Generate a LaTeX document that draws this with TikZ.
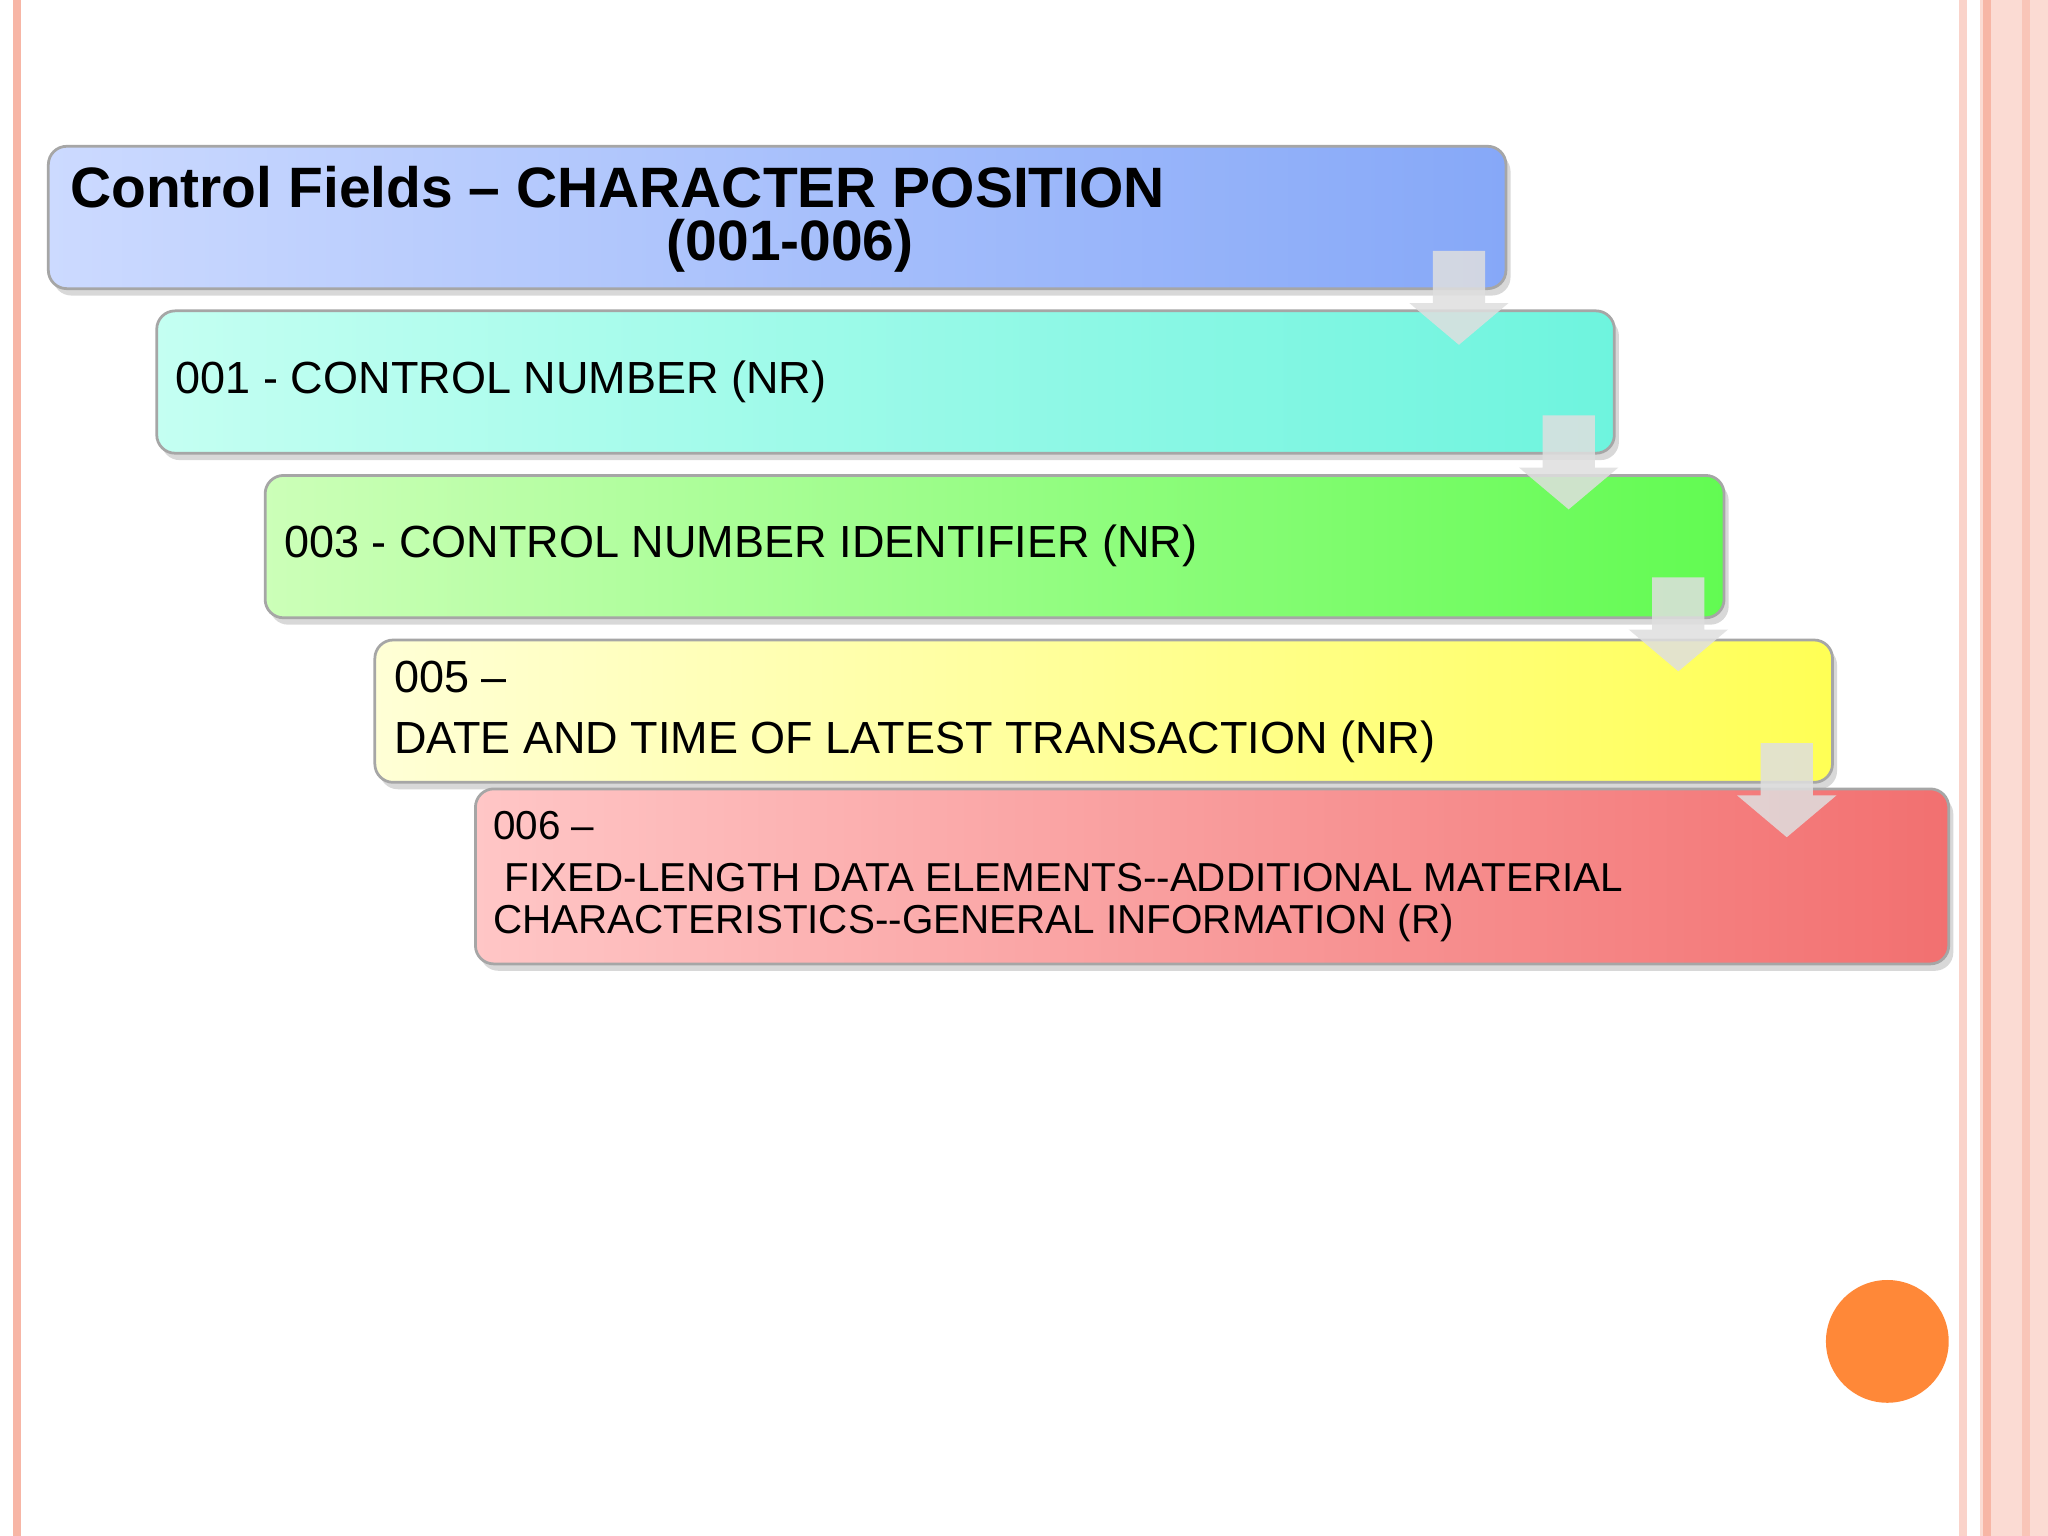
\documentclass[tikz,border=0pt]{standalone}
\usepackage{fontspec}
\setmainfont{Liberation Sans}
\usetikzlibrary{shadows}
\tikzset{
 bar/.style={draw=black!35,line width=0.6pt,rounded corners=4pt,drop shadow={shadow xshift=1pt,shadow yshift=-1.5pt,opacity=0.3}},
 lab/.style={anchor=west,align=left,font=\fontsize{9.8}{11.5}\selectfont,inner sep=0pt},
 ttl/.style={inner sep=0pt,font=\bfseries\fontsize{12.4}{14}\selectfont},
 darrow/.style={fill=gray!25,fill opacity=0.85,draw=none}
}
\definecolor{bL}{HTML}{CCDAFF}\definecolor{bR}{HTML}{86A8F8}
\definecolor{cL}{HTML}{C4FFF2}\definecolor{cR}{HTML}{6EF4DE}
\definecolor{gL}{HTML}{CCFFB8}\definecolor{gR}{HTML}{62FB52}
\definecolor{yL}{HTML}{FFFFD6}\definecolor{yR}{HTML}{FFFF55}
\definecolor{rL}{HTML}{FFC6C6}\definecolor{rR}{HTML}{F27070}
\definecolor{pinkline}{HTML}{F7B6A6}
\definecolor{circ}{HTML}{FF8838}
\begin{document}
\begin{tikzpicture}[x=0.01cm,y=-0.01cm]
\useasboundingbox (0,0) rectangle (1568,1176);
\fill[white] (0,0) rectangle (1568,1176);
% borders
\fill[pinkline] (10,0) rectangle (16,1176);
\fill[pinkline!60] (1500,0) rectangle (1506,1176);
\fill[pinkline!50] (1516,0) rectangle (1568,1176);
\fill[pinkline] (1518,0) rectangle (1524,1176);
\fill[pinkline!80] (1548,0) rectangle (1554,1176);
% boxes
\draw[bar,left color=bL,right color=bR] (37,112) rectangle (1153,221);
\draw[bar,left color=cL,right color=cR] (120,238) rectangle (1236,347);
\draw[bar,left color=gL,right color=gR] (203,364) rectangle (1320,473);
\draw[bar,left color=yL,right color=yR] (287,490) rectangle (1403,599);
\draw[bar,left color=rL,right color=rR] (364,604) rectangle (1492,738);
% arrows
\foreach \x/\y in {1117/192,1201/318,1285/442,1368/569}{
 \fill[darrow] (\x-20,\y) -- (\x+20,\y) -- (\x+20,\y+40) -- (\x+38,\y+40) -- (\x,\y+72) -- (\x-38,\y+40) -- (\x-20,\y+40) -- cycle;}
% texts
\node[ttl,anchor=west] (t1) at (53,143) {Control Fields -- CHARACTER POSITION};
\node[ttl] (t2) at (605,188) {(001-006)};
\node[lab] (a) at (134,292) {001 - CONTROL NUMBER (NR)};
\node[lab] (b) at (217,418) {003 - CONTROL NUMBER IDENTIFIER (NR)};
\node[lab] (c1) at (301,518) {005 --};
\node[lab] (c2) at (301,568) {DATE AND TIME OF LATEST TRANSACTION (NR)};
\node[lab,font=\fontsize{8.8}{9.3}\selectfont] (d1) at (377,632) {006 --};
\node[lab,font=\fontsize{8.8}{9.3}\selectfont] (d2) at (377,691) {\ FIXED-LENGTH DATA ELEMENTS{-}{-}ADDITIONAL MATERIAL\\CHARACTERISTICS{-}{-}GENERAL INFORMATION (R)};
% circle
\fill[circ] (1445,1027) circle (47);
\end{tikzpicture}
\end{document}
